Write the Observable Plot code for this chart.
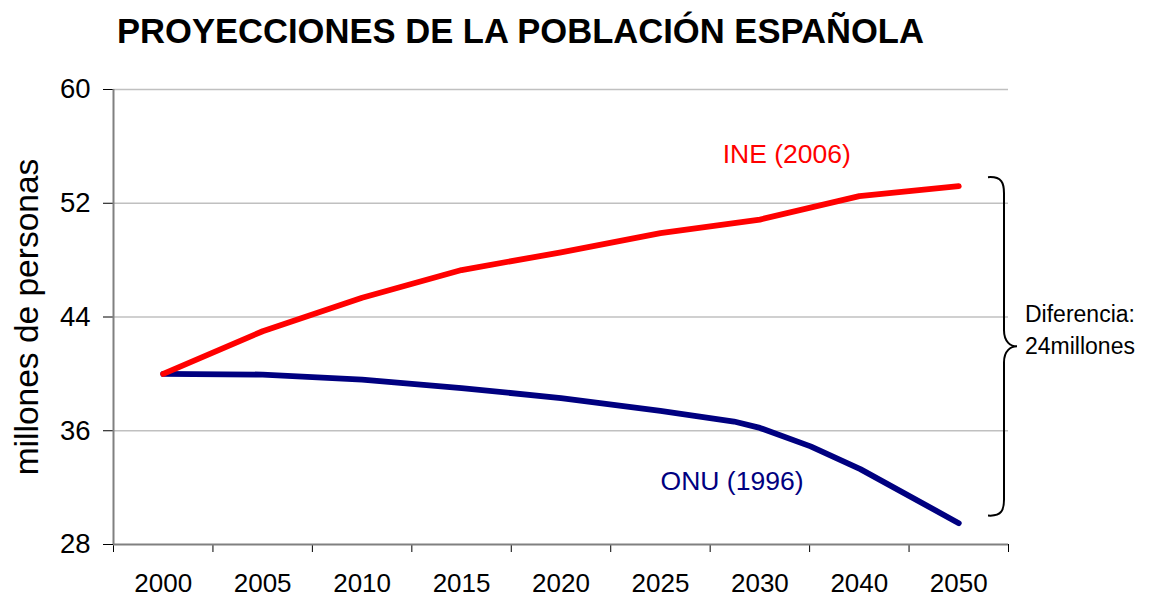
<!DOCTYPE html>
<html>
<head>
<meta charset="utf-8">
<script src="https://cdn.jsdelivr.net/npm/d3@7"></script>
<script src="https://cdn.jsdelivr.net/npm/@observablehq/plot@0.6"></script>
<style>
  html, body { margin: 0; padding: 0; background: #fff; }
  #wrap { position: relative; width: 1151px; height: 597px; font-family: "Liberation Sans", Arial, sans-serif; }
  #title { position: relative; height: 70px; }
  #title span { position: absolute; left: 117px; top: 14px; font-size: 34.6px; line-height: 35px; font-weight: bold; color: #000; white-space: nowrap; }
  svg { display: block; }
</style>
</head>
<body>
<div id="wrap">
  <div id="title"><span>PROYECCIONES DE LA POBLACIÓN ESPAÑOLA</span></div>
  <div id="chart"></div>
</div>
<script>
// Category labels on the x axis (one per position 0..8)
const xLabels = ["2000", "2005", "2010", "2015", "2020", "2025", "2030", "2040", "2050"];
const xPositions = [0, 1, 2, 3, 4, 5, 6, 7, 8];
const xBoundaries = [-0.5, 0.5, 1.5, 2.5, 3.5, 4.5, 5.5, 6.5, 7.5, 8.5];

// y axis ticks (millones de personas)
const yTicks = [28, 36, 44, 52, 60];
const yGrid = [36, 44, 52, 60];

// INE (2006) projection
const ineX = [0, 1, 2, 3, 4, 5, 6, 7, 8];
const ineV = [40.0, 43.0, 45.35, 47.3, 48.55, 49.9, 50.85, 52.5, 53.2];

// ONU (1996) projection
const onuX = [0, 1, 2, 3, 4, 5, 5.74, 6, 6.51, 7.01, 8];
const onuV = [40.0, 39.95, 39.6, 39.0, 38.3, 37.4, 36.65, 36.2, 34.9, 33.3, 29.5];

// Annotation labels
const seriesNames = ["INE (2006)", "ONU (1996)"];
const seriesColors = ["#ff0000", "#000080"];
const labelX = [6.27, 5.72];
const labelV = [55.4, 32.4];

// Difference bracket
const braceTop = 53.8;
const braceBottom = 30.0;
const diffText = ["Diferencia:", "24millones"];

const ine = ineX.map((x, i) => ({x, v: ineV[i]}));
const onu = onuX.map((x, i) => ({x, v: onuV[i]}));
const labels = seriesNames.map((t, i) => ({t, x: labelX[i], v: labelV[i], c: seriesColors[i]}));

function braceMark(index, scales, values, dims, context) {
  const y0 = scales.y(braceTop), y1 = scales.y(braceBottom), ym = (y0 + y1) / 2;
  const xr = scales.x(8.5);
  const xv = xr - 4;           // vertical stroke
  const xe = xr - 20;          // curled ends
  const xt = xr + 9;           // tip
  const r = 16;
  const p = d3.path();
  p.moveTo(xe, y0);
  p.bezierCurveTo(xv - 2, y0 - 1, xv, y0 + 6, xv, y0 + r);
  p.lineTo(xv, ym - r);
  p.bezierCurveTo(xv, ym - 4, xt - 6, ym, xt, ym);
  p.bezierCurveTo(xt - 6, ym, xv, ym + 4, xv, ym + r);
  p.lineTo(xv, y1 - r);
  p.bezierCurveTo(xv, y1 - 6, xv - 2, y1 + 1, xe, y1);
  const g = d3.create("svg:g");
  g.append("path").attr("d", p.toString()).attr("fill", "none").attr("stroke", "#000").attr("stroke-width", 2);
  const tx = xt + 8;
  for (const [k, dy] of [[0, -32], [1, 0]]) {
    g.append("text")
      .attr("x", tx).attr("y", ym + dy).attr("dy", "0.35em")
      .attr("font-size", 23).attr("fill", "#000").attr("text-anchor", "start")
      .text(diffText[k]);
  }
  return g.node();
}

const chart = Plot.plot({
  width: 1151,
  height: 527,
  marginTop: 19,
  marginBottom: 53,
  marginLeft: 113,
  marginRight: 143,
  style: {fontFamily: "'Liberation Sans', Arial, sans-serif", color: "#000", background: "#fff", overflow: "visible"},
  x: {domain: [-0.5, 8.5], axis: null},
  y: {domain: [28, 60], axis: null},
  marks: [
    Plot.ruleY(yGrid, {stroke: "#c0c0c0", strokeWidth: 1.5}),
    Plot.axisY({ticks: yTicks, tickSize: 10, tickPadding: 13, fontSize: 27.5, label: null, tickFormat: d => String(d)}),
    Plot.axisX({ticks: xBoundaries, tickSize: 8, tickFormat: () => "", label: null}),
    Plot.axisX({ticks: xPositions, tickSize: 0, tickPadding: 29, fontSize: 26, label: null, tickFormat: i => xLabels[i]}),
    Plot.ruleX([-0.5], {stroke: "#808080", strokeWidth: 2}),
    Plot.ruleY([28], {stroke: "#808080", strokeWidth: 2}),
    Plot.text(["millones de personas"], {frameAnchor: "left", textAnchor: "middle", dx: -86, rotate: -90, fontSize: 33.5, fill: "#000", text: d => d}),
    Plot.line(onu, {x: "x", y: "v", stroke: "#000080", strokeWidth: 5.8, strokeLinejoin: "round", strokeLinecap: "round"}),
    Plot.line(ine, {x: "x", y: "v", stroke: "#ff0000", strokeWidth: 5.8, strokeLinejoin: "round", strokeLinecap: "round"}),
    Plot.text(labels, {x: "x", y: "v", text: "t", fill: "c", fontSize: 26.5}),
    braceMark
  ]
});
document.getElementById("chart").appendChild(chart);
</script>
</body>
</html>
